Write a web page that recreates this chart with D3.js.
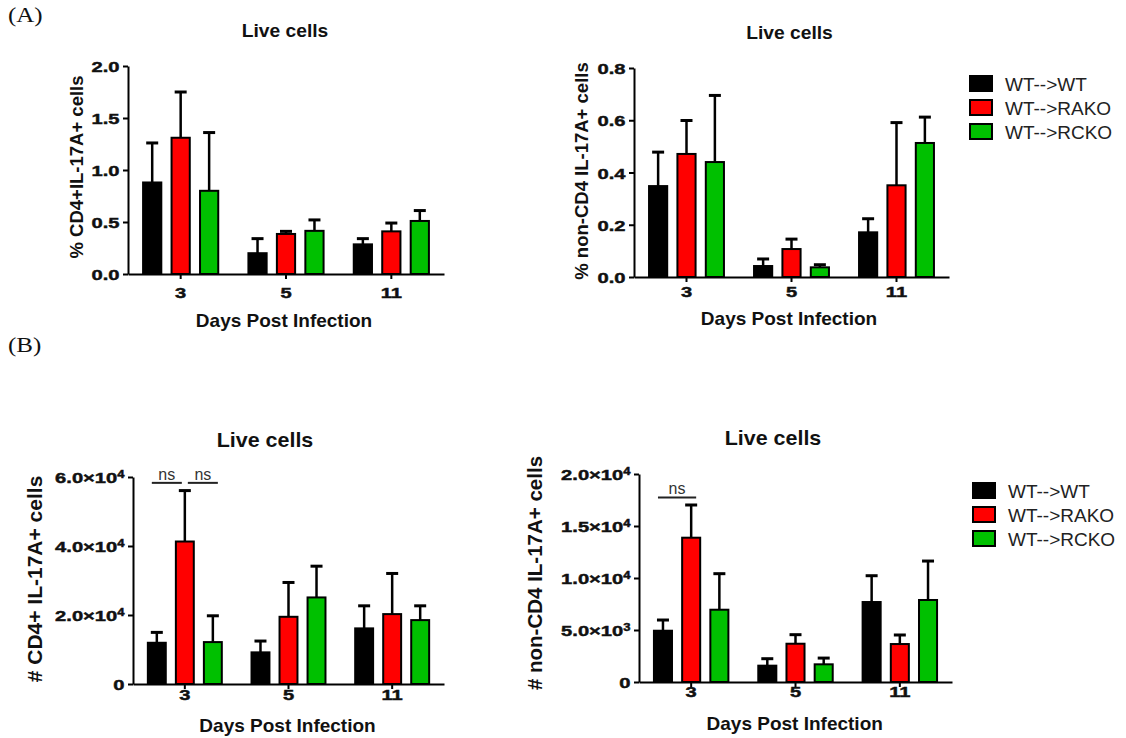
<!DOCTYPE html>
<html>
<head>
<meta charset="utf-8">
<script src="https://cdn.jsdelivr.net/npm/d3@7"></script>
<style>
  body { margin: 0; background: #fff; }
  svg { display: block; }
  text { font-family: "Liberation Sans", Arial, sans-serif; }
  text.letter { font-family: "Liberation Serif", "Times New Roman", serif; }
</style>
</head>
<body>
<svg id="fig" width="1126" height="738"></svg>
<script>
// 1. Data (mean and SEM per group, rows = WT, RAKO, RCKO)
const days = ["3", "5", "11"];
const groups = ["WT-->WT", "WT-->RAKO", "WT-->RCKO"];
const groupColors = ["#000000", "#ff0000", "#00c000"];

// (A) % of live cells
const cd4PctMean = [[0.88, 0.20, 0.285], [1.31, 0.385, 0.41], [0.80, 0.415, 0.51]];
const cd4PctErr = [[0.38, 0.14, 0.055], [0.44, 0.025, 0.08], [0.56, 0.105, 0.10]];
const cd4PctTicks = [0, 0.5, 1.0, 1.5, 2.0];

const nonCd4PctMean = [[0.348, 0.042, 0.171], [0.471, 0.107, 0.351], [0.44, 0.037, 0.513]];
const nonCd4PctErr = [[0.13, 0.027, 0.052], [0.128, 0.038, 0.24], [0.255, 0.01, 0.099]];
const nonCd4PctTicks = [0, 0.2, 0.4, 0.6, 0.8];

// (B) absolute numbers
const cd4CountMean = [[11950, 9170, 16120], [41300, 19480, 20260], [12150, 25090, 18520]];
const cd4CountErr = [[3010, 3280, 6540], [14760, 9950, 11780], [7620, 9060, 4140]];
const cd4CountTicks = [0, 20000, 40000, 60000];
const cd4CountSig = [
  { day: "3", from: 0, to: 1, at: 58300, label: "ns" },
  { day: "3", from: 1, to: 2, at: 58300, label: "ns" }
];

const nonCd4CountMean = [[4930, 1570, 7690], [13875, 3680, 3650], [6950, 1700, 7885]];
const nonCd4CountErr = [[1030, 670, 2530], [3145, 870, 870], [3465, 600, 3745]];
const nonCd4CountTicks = [0, 5000, 10000, 15000, 20000];
const nonCd4CountSig = [{ day: "3", from: 0, to: 1, at: 17750, label: "ns" }];

// 2. Layout of the four panels
const panels = [
  { mean: cd4PctMean, err: cd4PctErr, ticks: cd4PctTicks, fmt: "dec", sig: [],
    left: 128, right: 444, top: 66, bottom: 274,
    title: "Live cells", titleX: 285, titleY: 36.5, titleSize: 17.5,
    yTitle: "% CD4+IL-17A+ cells", yTitleX: 83, yTitleY: 167, yTitleSize: 18.5,
    xTitleX: 284, xTitleY: 327, xTickY: 298 },
  { mean: nonCd4PctMean, err: nonCd4PctErr, ticks: nonCd4PctTicks, fmt: "dec", sig: [],
    left: 634, right: 949, top: 68, bottom: 277,
    title: "Live cells", titleX: 789.5, titleY: 39, titleSize: 17.5,
    yTitle: "% non-CD4 IL-17A+ cells", yTitleX: 588, yTitleY: 171, yTitleSize: 18.5,
    xTitleX: 789, xTitleY: 325, xTickY: 296.5,
    legendX: 969, legendY: 75 },
  { mean: cd4CountMean, err: cd4CountErr, ticks: cd4CountTicks, fmt: "exp", sig: cd4CountSig,
    left: 133, right: 444, top: 477, bottom: 684,
    title: "Live cells", titleX: 265, titleY: 447, titleSize: 19.5,
    yTitle: "# CD4+ IL-17A+ cells", yTitleX: 41.5, yTitleY: 579, yTitleSize: 21,
    xTitleX: 287.5, xTitleY: 731.5, xTickY: 700 },
  { mean: nonCd4CountMean, err: nonCd4CountErr, ticks: nonCd4CountTicks, fmt: "exp", sig: nonCd4CountSig,
    left: 639, right: 952, top: 474, bottom: 682,
    title: "Live cells", titleX: 773, titleY: 445, titleSize: 19.5,
    yTitle: "# non-CD4 IL-17A+ cells", yTitleX: 541.5, yTitleY: 573, yTitleSize: 20.5,
    xTitleX: 794.7, xTitleY: 730, xTickY: 696.5,
    legendX: 972, legendY: 482 }
];

const svg = d3.select("#fig");
const ink = "#111";

// tick labels like "6.0x10^4"
function expLabel(text, v) {
  text.text(null);
  if (v === 0) {
    text.text("0");
    return;
  }
  const e = Math.floor(Math.log10(v));
  const m = (v / Math.pow(10, e)).toFixed(1);
  text.append("tspan").text(m + "\u00d710");
  text.append("tspan").attr("dy", "-0.5em").attr("font-size", "10px").text(e);
}

// 3. Draw one panel
function drawPanel(p) {
  const g = svg.append("g");

  const x = d3.scaleBand().domain(days).range([p.left, p.right]);
  const xs = d3
    .scaleBand()
    .domain(d3.range(groups.length))
    .range([0, x.bandwidth()])
    .paddingInner(0.36)
    .paddingOuter(0.53);
  const y = d3.scaleLinear().domain([0, d3.max(p.ticks)]).range([p.bottom, p.top]);

  const cx = (day, gi) => x(day) + xs(gi) + xs.bandwidth() / 2;

  const rows = [];
  p.mean.forEach((vals, gi) =>
    vals.forEach((v, di) => rows.push({ gi, day: days[di], v, e: p.err[gi][di] }))
  );

  // error bars (upper only)
  const eb = g.selectAll(".eb").data(rows).enter().append("g").attr("class", "eb");
  eb.append("line")
    .attr("x1", (d) => cx(d.day, d.gi))
    .attr("x2", (d) => cx(d.day, d.gi))
    .attr("y1", (d) => y(d.v))
    .attr("y2", (d) => y(d.v + d.e))
    .attr("stroke", "#000")
    .attr("stroke-width", 2.5);
  eb.append("line")
    .attr("x1", (d) => cx(d.day, d.gi) - 6)
    .attr("x2", (d) => cx(d.day, d.gi) + 6)
    .attr("y1", (d) => y(d.v + d.e))
    .attr("y2", (d) => y(d.v + d.e))
    .attr("stroke", "#000")
    .attr("stroke-width", 3);

  // bars
  g.selectAll(".bar")
    .data(rows)
    .enter()
    .append("rect")
    .attr("class", "bar")
    .attr("x", (d) => x(d.day) + xs(d.gi))
    .attr("width", xs.bandwidth())
    .attr("y", (d) => y(d.v))
    .attr("height", (d) => y(0) - y(d.v))
    .attr("fill", (d) => groupColors[d.gi])
    .attr("stroke", "#000")
    .attr("stroke-width", 2);

  // y axis
  const yAxis = g
    .append("g")
    .attr("transform", `translate(${p.left},0)`)
    .call(d3.axisLeft(y).tickValues(p.ticks).tickSize(5).tickSizeOuter(0));
  yAxis.select(".domain").attr("stroke", "#000").attr("stroke-width", 2);
  yAxis.selectAll(".tick line").attr("stroke", "#000").attr("stroke-width", 2);
  yAxis
    .selectAll(".tick text")
    .attr("x", 0)
    .attr("dy", "0.36em")
    .attr("transform", "translate(-8.5,0) scale(1.3,1)")
    .attr("font-size", "15.5px")
    .attr("font-weight", "bold")
    .attr("fill", ink)
    .attr("stroke", ink)
    .attr("stroke-width", 0.45)
    .each(function (v) {
      if (p.fmt === "exp") expLabel(d3.select(this), v);
      else d3.select(this).text(d3.format(".1f")(v));
    });

  // x axis
  const xAxis = g
    .append("g")
    .attr("transform", `translate(0,${p.bottom})`)
    .call(d3.axisBottom(x).tickSize(5).tickSizeOuter(0));
  xAxis.select(".domain").attr("stroke", "#000").attr("stroke-width", 2);
  xAxis.selectAll(".tick line").attr("stroke", "#000").attr("stroke-width", 2);
  xAxis
    .selectAll(".tick text")
    .attr("y", 0)
    .attr("dy", 0)
    .attr("transform", `translate(0,${p.xTickY - p.bottom}) scale(1.3,1)`)
    .attr("font-size", "15.5px")
    .attr("font-weight", "bold")
    .attr("fill", ink)
    .attr("stroke", ink)
    .attr("stroke-width", 0.45);

  // significance brackets
  p.sig.forEach((s) => {
    const shareL = p.sig.some((o) => o !== s && o.day === s.day && o.to === s.from);
    const shareR = p.sig.some((o) => o !== s && o.day === s.day && o.from === s.to);
    const x1 = cx(s.day, s.from) + (shareL ? 3 : -5);
    const x2 = cx(s.day, s.to) + (shareR ? -3 : 5);
    g.append("line")
      .attr("x1", x1)
      .attr("x2", x2)
      .attr("y1", y(s.at))
      .attr("y2", y(s.at))
      .attr("stroke", "#222")
      .attr("stroke-width", 2);
    g.append("text")
      .attr("x", (x1 + x2) / 2)
      .attr("y", y(s.at) - 3)
      .attr("text-anchor", "middle")
      .attr("font-size", "16px")
      .attr("fill", "#333")
      .text(s.label);
  });

  // titles
  g.append("text")
    .attr("transform", `translate(${p.titleX},${p.titleY}) scale(1.1,1)`)
    .attr("text-anchor", "middle")
    .attr("font-size", p.titleSize + "px")
    .attr("font-weight", "bold")
    .attr("fill", ink)
    .text(p.title);

  g.append("text")
    .attr("transform", `translate(${p.xTitleX},${p.xTitleY})`)
    .attr("text-anchor", "middle")
    .attr("font-size", "19px")
    .attr("font-weight", "bold")
    .attr("fill", ink)
    .text("Days Post Infection");

  g.append("text")
    .attr("transform", `translate(${p.yTitleX},${p.yTitleY}) rotate(-90)`)
    .attr("text-anchor", "middle")
    .attr("font-size", p.yTitleSize + "px")
    .attr("font-weight", "bold")
    .attr("fill", ink)
    .text(p.yTitle);

  // legend
  if (p.legendX !== undefined) {
    const legend = g
      .append("g")
      .attr("transform", `translate(${p.legendX},${p.legendY})`);
    const items = legend
      .selectAll("g")
      .data(groups)
      .enter()
      .append("g")
      .attr("transform", (d, i) => `translate(0,${i * 24})`);
    items
      .append("rect")
      .attr("x", 1)
      .attr("y", 1)
      .attr("width", 22)
      .attr("height", 15)
      .attr("fill", (d, i) => groupColors[i])
      .attr("stroke", "#000")
      .attr("stroke-width", 2);
    items
      .append("text")
      .attr("x", 36)
      .attr("y", 15.5)
      .attr("font-size", "19px")
      .attr("fill", "#222")
      .text((d) => d);
  }
}

panels.forEach(drawPanel);

// panel letters
svg
  .selectAll(".letter")
  .data([{ t: "(A)", y: 22 }, { t: "(B)", y: 352 }])
  .enter()
  .append("text")
  .attr("class", "letter")
  .attr("transform", (d) => `translate(8,${d.y}) scale(1.25,1)`)
  .attr("font-size", "20px")
  .attr("fill", ink)
  .text((d) => d.t);
</script>
</body>
</html>
